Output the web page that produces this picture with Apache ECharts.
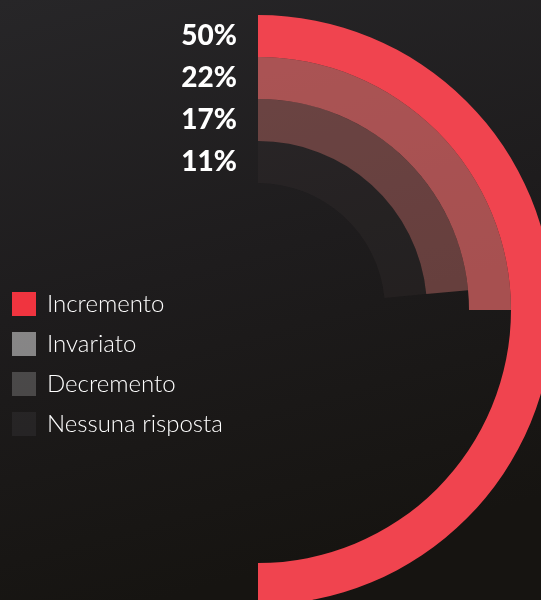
<!DOCTYPE html>
<html lang="it">
<head>
    <meta charset="UTF-8">
    <title>Risposte</title>
    <script src="https://cdn.jsdelivr.net/npm/echarts@6/dist/echarts.min.js"></script>
    <style>
        html, body { margin: 0; padding: 0; background: #1c1b1c; }
        #main { width: 541px; height: 600px; }
    </style>
</head>
<body>
<div id="main"></div>
<script>
    // categorie, dall'anello esterno verso l'interno
    const categories = ['Incremento', 'Invariato', 'Decremento', 'Nessuna risposta'];
    // etichette percentuali mostrate accanto agli anelli
    const pctLabels = ['50%', '22%', '17%', '11%'];
    // ampiezza degli archi, in % di cerchio
    const arcShare = [50, 25, 23.5, 23.5];
    const ringColors = ['#f0444f', 'rgba(240,110,110,0.66)', 'rgba(215,120,115,0.4)', 'rgba(140,120,120,0.07)'];
    const legendColors = ['#f0343f', 'rgba(205,205,205,0.6)', 'rgba(170,170,170,0.32)', 'rgba(120,120,130,0.12)'];

    const myChart = echarts.init(document.getElementById('main'));

    // asse radiale: dall'interno verso l'esterno
    const radiusData = pctLabels.slice().reverse();

    const series = categories.map(function (name, i) {
        const data = radiusData.map(function () { return null; });
        data[categories.length - 1 - i] = arcShare[i];
        return {
            name: name,
            type: 'bar',
            coordinateSystem: 'polar',
            stack: 'anelli',
            barCategoryGap: '0%',
            itemStyle: { color: ringColors[i] },
            emphasis: { disabled: true },
            data: data
        };
    });

    const option = {
        backgroundColor: {
            type: 'linear', x: 0, y: 0, x2: 0.3, y2: 1,
            colorStops: [
                { offset: 0, color: '#272628' },
                { offset: 0.5, color: '#1e1c1d' },
                { offset: 1, color: '#161411' }
            ]
        },
        animation: false,
        polar: {
            center: [258, 310],
            radius: [127, 295]
        },
        angleAxis: {
            show: false,
            min: 0,
            max: 100,
            startAngle: 90,
            clockwise: true
        },
        radiusAxis: {
            type: 'category',
            data: radiusData,
            axisLine: { show: false },
            axisTick: { show: false },
            splitLine: { show: false },
            axisLabel: {
                interval: 0,
                margin: 21,
                color: '#ffffff',
                fontFamily: 'Lato',
                fontWeight: 900,
                fontSize: 28
            }
        },
        legend: {
            orient: 'vertical',
            left: 12,
            top: 292,
            padding: 0,
            itemWidth: 24,
            itemHeight: 24,
            itemGap: 16,
            icon: 'rect',
            selectedMode: false,
            textStyle: {
                color: '#ffffff',
                fontFamily: 'Lato',
                fontWeight: 300,
                fontSize: 24,
                padding: [0, 0, 0, 6]
            },
            data: categories.map(function (name, i) {
                return { name: name, itemStyle: { color: legendColors[i] } };
            })
        },
        series: series
    };

    myChart.setOption(option);
</script>
</body>
</html>
